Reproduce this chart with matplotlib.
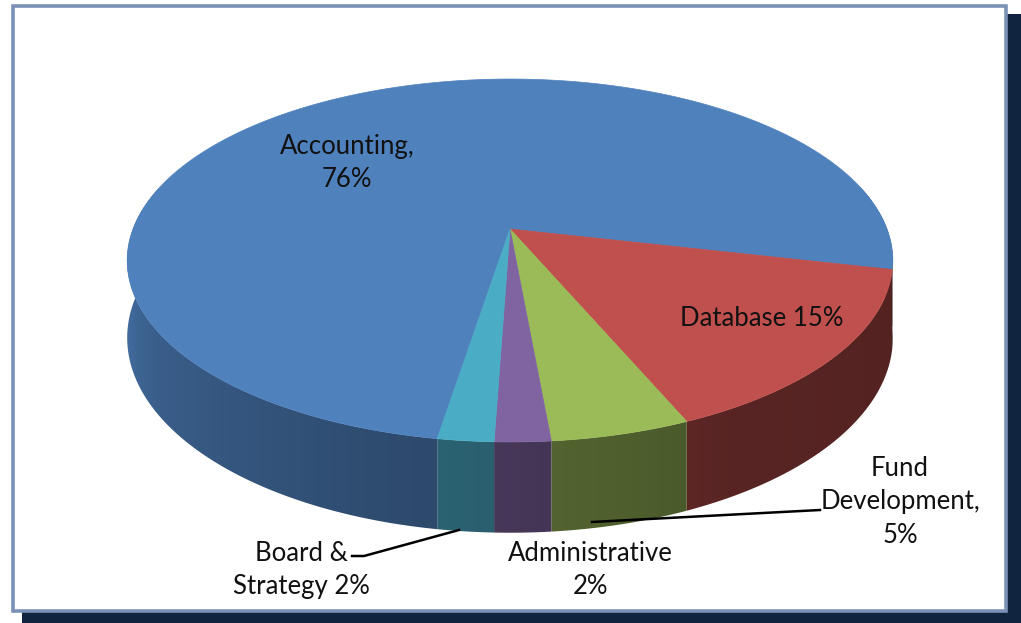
import numpy as np
import matplotlib
matplotlib.use("Agg")
import matplotlib.pyplot as plt
from matplotlib.patches import Polygon, Rectangle
from matplotlib.colors import to_rgb

# ---- data ----
categories = ["Accounting", "Database", "Fund Development", "Administrative", "Board & Strategy"]
values = [76, 15, 5, 2, 2]
labels = ["Accounting,\n76%", "Database 15%", "Fund\nDevelopment,\n5%", "Administrative\n2%", "Board &\nStrategy 2%"]
colors = ["#4F81BD", "#C0504D", "#9BBB59", "#8064A2", "#4BACC6"]

# ---- layout ----
W, H = 1021, 623
fig = plt.figure(figsize=(W / 100, H / 100), dpi=100)
ax = fig.add_axes([0, 0, 1, 1])
ax.set_xlim(0, W)
ax.set_ylim(H, 0)
ax.axis("off")

# frame with shadow
ax.add_patch(Rectangle((22, 14), W - 22, H - 14, facecolor="#10243F", edgecolor="none", zorder=0))
ax.add_patch(Rectangle((12.5, 5.5), 993, 605, facecolor="white", edgecolor="#7B91B5", linewidth=2.6, zorder=1))

# 3D pie geometry (pseudo perspective)
cx, cy = 510, 229
R, A, K, THICK = 377, 176, 0.1736, 75
start = 99.2 - 360  # accounting start angle (deg, clockwise from 3 o'clock on screen)


def proj(theta_deg, level):
    t = np.radians(theta_deg)
    Z = np.sin(t)
    X = np.cos(t)
    s = 1.0 / (1.0 - K * Z)
    return cx + R * X * s, cy + (A * Z + level * THICK) * s


def shade(theta_deg):
    phi = (np.asarray(theta_deg) + 90) % 360 - 90
    xp = [-90, 0, 60, 90, 110, 150, 180, 270]
    fp = [0.42, 0.42, 0.46, 0.55, 0.6, 0.74, 0.92, 0.95]
    return np.interp(phi, xp, fp)


total = float(sum(values))
bounds = [start]
for v in values:
    bounds.append(bounds[-1] + 360.0 * v / total)

# x -> angle mapping on the front half of the rim (monotonic part)
th_ref = np.linspace(10, 170, 800)
x_ref, _ = proj(th_ref, 0)
order = np.argsort(x_ref)
x_sorted, th_sorted = x_ref[order], th_ref[order]

# side walls (visible front part), with a smooth horizontal gradient
for i, v in enumerate(values):
    a0, a1 = bounds[i], bounds[i + 1]
    for off in (-360, 0, 360):
        lo, hi = max(a0, -14 + off), min(a1, 194 + off)
        if hi <= lo:
            continue
        th = np.linspace(lo, hi, max(4, int((hi - lo) * 3)))
        xt, yt = proj(th, 0)
        xb, yb = proj(th[::-1], 1)
        pts = np.column_stack([np.r_[xt, xb], np.r_[yt, yb]])
        poly = Polygon(pts, closed=True, facecolor="none", edgecolor="none", zorder=2)
        ax.add_patch(poly)
        x0, x1 = pts[:, 0].min() - 2, pts[:, 0].max() + 2
        y0, y1 = pts[:, 1].min() - 2, pts[:, 1].max() + 2
        ncol = max(2, int(x1 - x0) * 2)
        xs = np.linspace(x0, x1, ncol)
        ths = np.interp(xs, x_sorted, th_sorted)
        f = shade(ths)
        rgb = np.array(to_rgb(colors[i]))[None, :] * f[:, None]
        img = np.repeat(rgb[None, :, :], 2, axis=0)
        im = ax.imshow(img, extent=(x0, x1, y1, y0), interpolation="bilinear",
                       aspect="auto", zorder=2)
        im.set_clip_path(poly)

# top faces
for i, v in enumerate(values):
    a0, a1 = bounds[i], bounds[i + 1]
    th = np.linspace(a0, a1, max(3, int((a1 - a0) * 2)))
    xs, ys = proj(th, 0)
    pts = [[cx, cy]] + list(zip(xs, ys))
    ax.add_patch(Polygon(pts, closed=True, facecolor=colors[i], edgecolor=colors[i],
                         linewidth=0.5, zorder=3))

ax.set_xlim(0, W)
ax.set_ylim(H, 0)

# labels
font = dict(family=["Lato", "DejaVu Sans"], fontsize=18.5, color="#111111",
            ha="center", va="center", linespacing=1.42, zorder=5)
label_pos = [(347, 163), (762, 318), (900, 502), (590, 570), (301, 570)]
for lab, (lx, ly) in zip(labels, label_pos):
    ax.text(lx, ly, lab, **font)

# leader lines
ax.plot([352, 364, 459], [556, 556, 530], color="black", linewidth=1.8, zorder=4)
ax.plot([592, 820], [522, 510], color="black", linewidth=1.8, zorder=4)

fig.savefig("out.png", dpi=100)
